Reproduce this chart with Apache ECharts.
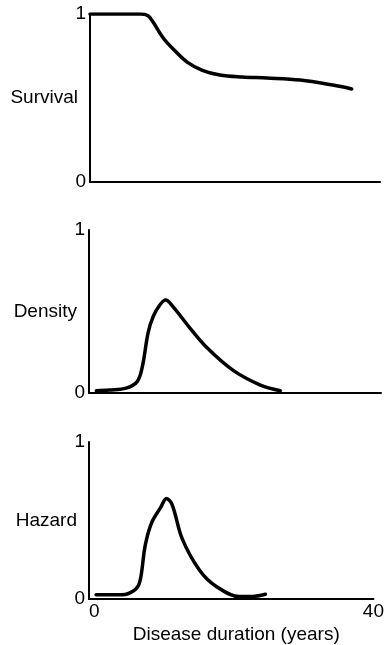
<!DOCTYPE html>
<html>
<head>
<meta charset="utf-8">
<script src="https://cdn.jsdelivr.net/npm/echarts@6/dist/echarts.min.js"></script>
<style>
  html, body { margin: 0; padding: 0; background: #fff; }
  #chart { width: 387px; height: 645px; }
</style>
</head>
<body>
<div id="chart"></div>
<script>
// values (years, 0..1 scale)
const survivalYears = [0, 7.0, 8.0, 8.7, 10.1, 11.5, 13.4, 15.5, 17.9, 21.0, 24.4, 29.0, 33.5, 36.1]
const survivalValues = [1, 1, 0.99, 0.952, 0.857, 0.79, 0.714, 0.665, 0.637, 0.625, 0.619, 0.607, 0.577, 0.554]

const densityYears = [1.0, 2.8, 5.1, 6.6, 7.3, 8.1, 8.8, 9.7, 10.5, 11.5, 13.8, 16.1, 19.7, 23.4, 26.2]
const densityValues = [0.014, 0.018, 0.03, 0.07, 0.16, 0.37, 0.47, 0.54, 0.57, 0.53, 0.40, 0.28, 0.14, 0.05, 0.014]

const hazardYears = [1.0, 4.6, 6.5, 7.2, 7.9, 8.8, 10.1, 10.9, 11.7, 13.1, 15.6, 17.9, 21.1, 23.0, 24.8]
const hazardValues = [0.027, 0.027, 0.06, 0.12, 0.34, 0.485, 0.585, 0.64, 0.60, 0.385, 0.18, 0.08, 0.016, 0.016, 0.03]

const panelNames = ['Survival', 'Density', 'Hazard']
const xTicks = [0, 40]
const xTitle = 'Disease duration (years)'

const font = 'Liberation Sans, Arial, sans-serif'
const ink = '#000'

const pairs = (xs, ys) => xs.map((x, i) => [x, ys[i]])

const chart = echarts.init(document.getElementById('chart'))

const grids = [
  { left: 90, right: 7, top: 14, height: 168 },
  { left: 89, right: 6, top: 230, height: 163 },
  { left: 89, right: 6, top: 442, height: 165 }
]

const xAxes = grids.map((g, i) => ({
  type: 'value',
  gridIndex: i,
  min: xTicks[0],
  max: xTicks[1],
  interval: xTicks[1] - xTicks[0],
  splitLine: { show: false },
  axisTick: { show: false },
  axisLine: { onZero: false, lineStyle: { color: ink, width: 2 } },
  axisLabel: {
    show: i === 2,
    color: ink,
    fontFamily: font,
    fontSize: 19,
    margin: 3,
    alignMinLabel: 'left'
  },
  name: i === 2 ? xTitle : '',
  nameLocation: 'middle',
  nameGap: 26,
  nameMoveOverlap: false,
  nameTextStyle: { color: ink, fontFamily: font, fontSize: 19, padding: [0, 0, 0, 10] }
}))

const yAxes = grids.map((g, i) => ({
  type: 'value',
  gridIndex: i,
  min: 0,
  max: 1,
  interval: 1,
  splitLine: { show: false },
  axisTick: { show: false },
  axisLine: { show: true, lineStyle: { color: ink, width: 2 } },
  axisLabel: { color: ink, fontFamily: font, fontSize: 19, margin: 4 },
  name: panelNames[i],
  nameLocation: 'middle',
  nameRotate: 0,
  nameGap: 12,
  nameMoveOverlap: false,
  nameTextStyle: { color: ink, fontFamily: font, fontSize: 19 }
}))

const lineSeries = (idx, xs, ys) => ({
  type: 'line',
  xAxisIndex: idx,
  yAxisIndex: idx,
  data: pairs(xs, ys),
  smooth: 0.35,
  showSymbol: false,
  silent: true,
  lineStyle: { color: ink, width: 3.5, cap: 'round', join: 'round' }
})

chart.setOption({
  animation: false,
  backgroundColor: '#fff',
  grid: grids,
  xAxis: xAxes,
  yAxis: yAxes,
  series: [
    lineSeries(0, survivalYears, survivalValues),
    lineSeries(1, densityYears, densityValues),
    lineSeries(2, hazardYears, hazardValues)
  ]
})
</script>
</body>
</html>
